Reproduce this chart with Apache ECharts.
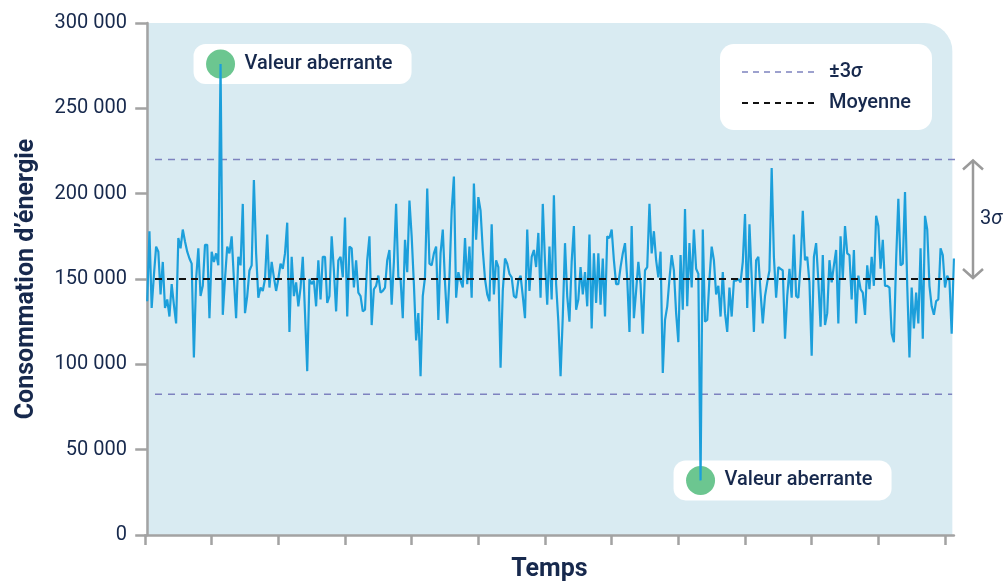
<!DOCTYPE html>
<html><head><meta charset="utf-8">
<script src="https://cdn.jsdelivr.net/npm/echarts@6/dist/echarts.min.js"></script>
<style>html,body{margin:0;padding:0;background:#fff}#c{width:1008px;height:582px}</style>
</head><body><div id="c"></div>
<script>
// Energy consumption readings (one per time step)
const energy = [
137000,178000,133000,152000,169000,166000,141000,160000,133000,138000,
128000,147000,135000,124000,174000,168000,179000,172000,166000,162000,
159000,104000,150000,168000,140000,146000,170000,170000,127000,166000,
160000,165000,158000,276000,129000,150000,169000,165000,175000,150000,
127000,163000,158000,194000,130000,140000,155000,158000,208000,165000,
139000,145000,143000,150000,176000,145000,160000,151000,143000,150000,
159000,156000,165000,183000,119000,163000,140000,148000,134000,145000,
163000,130000,96000,150000,147000,149000,134000,161000,138000,163000,
163000,136000,140000,175000,155000,131000,161000,163000,151000,186000,
128000,169000,168000,145000,161000,142000,140000,131000,132000,161000,
175000,123000,144000,146000,152000,142000,143000,145000,161000,167000,
135000,160000,194000,151000,150000,127000,173000,154000,196000,175000,
147000,114000,130000,93000,140000,151000,203000,159000,158000,165000,
169000,126000,165000,179000,148000,124000,151000,190000,210000,139000,
154000,149000,145000,174000,147000,169000,139000,206000,173000,198000,
190000,167000,150000,141000,137000,182000,141000,161000,157000,98000,
143000,162000,159000,153000,151000,140000,139000,149000,152000,140000,
127000,179000,143000,163000,167000,157000,177000,139000,194000,160000,
135000,169000,138000,199000,147000,125000,93000,128000,171000,140000,
125000,160000,181000,132000,138000,157000,141000,154000,134000,176000,
121000,165000,136000,165000,135000,162000,128000,175000,174000,179000,
161000,147000,147000,157000,165000,171000,150000,119000,181000,127000,
143000,160000,147000,118000,155000,157000,194000,165000,178000,161000,
151000,166000,95000,126000,134000,150000,164000,155000,130000,113000,
164000,132000,191000,134000,171000,145000,179000,156000,153000,32000,
179000,125000,126000,150000,169000,161000,141000,146000,128000,154000,
130000,119000,145000,128000,149000,149000,150000,148000,160000,188000,
133000,182000,151000,119000,161000,163000,142000,124000,140000,148000,
155000,215000,163000,139000,157000,156000,155000,115000,140000,156000,
139000,176000,140000,139000,159000,190000,161000,163000,148000,105000,
163000,171000,149000,122000,164000,123000,130000,161000,148000,158000,
167000,124000,175000,150000,181000,165000,164000,138000,167000,124000,
152000,144000,142000,129000,158000,144000,163000,146000,187000,181000,
156000,173000,146000,146000,145000,118000,113000,161000,197000,158000,
159000,201000,146000,104000,145000,121000,142000,124000,168000,115000,
187000,179000,146000,134000,129000,137000,138000,168000,164000,145000,
152000,149000,118000,162000
];
const meanValue = [150000];
const sigmaBand = [220000, 82500];          // mean + 3σ, mean - 3σ
const outlierIdx = [33, 249];
const outlierText = ['Valeur aberrante', 'Valeur aberrante'];
const yTicks = [0, 50000, 100000, 150000, 200000, 250000, 300000];
const xTicks = [-1, 29, 59, 89, 119, 149, 179, 209, 239, 269, 299, 329, 359];
const legendNames = ['±3σ', 'Moyenne'];
const axisNames = ['Temps', 'Consommation d’énergie'];

const NAVY = '#17294d', AX = '#a3a3a3', FONT = 'Roboto';
const refStart = 3.5, refEndLong = 377, refEndShort = 362.2;

const chart = echarts.init(document.getElementById('c'), null, {renderer: 'canvas'});
const fmt = v => v === 0 ? '0' : (v / 1000) + ' 000';

const option = {
  animation: false,
  grid: {left: 145, top: 23, right: 54.1, bottom: 47, containLabel: false, outerBoundsMode: 'none'},
  xAxis: {
    type: 'value', min: -1, max: 363,
    name: axisNames[0], nameLocation: 'middle', nameGap: 22,
    nameTextStyle: {fontFamily: FONT, fontWeight: 'bold', fontSize: 25, color: NAVY, verticalAlign: 'top'},
    axisLine: {show: true, lineStyle: {color: AX, width: 2.5}},
    axisTick: {show: true, customValues: xTicks, length: 10, lineStyle: {color: AX, width: 2.5}},
    axisLabel: {show: false},
    splitLine: {show: false}
  },
  yAxis: {
    type: 'value', min: yTicks[0], max: yTicks[yTicks.length - 1], interval: yTicks[1] - yTicks[0],
    name: axisNames[1], nameLocation: 'middle', nameGap: 106, nameRotate: 90,
    nameTextStyle: {fontFamily: FONT, fontWeight: 'bold', fontSize: 25, color: NAVY},
    axisLine: {show: true, lineStyle: {color: AX, width: 2.5}},
    axisTick: {show: true, length: 12, lineStyle: {color: AX, width: 2.5}},
    axisLabel: {formatter: fmt, fontFamily: FONT, fontSize: 20, color: NAVY, margin: 18},
    splitLine: {show: false}
  },
  series: [
    {type: 'line', name: 'upper', silent: true, clip: false, symbol: 'none', z: 4,
     data: [[refStart, sigmaBand[0]], [refEndLong, sigmaBand[0]]],
     lineStyle: {color: '#7e82bf', width: 1.6, type: [7, 6]}},
    {type: 'line', name: 'lower', silent: true, clip: false, symbol: 'none', z: 4,
     data: [[refStart, sigmaBand[1]], [refEndShort, sigmaBand[1]]],
     lineStyle: {color: '#7e82bf', width: 1.6, type: [7, 6]}},
    {type: 'line', name: 'energy', silent: true, symbol: 'none', z: 5,
     data: energy.map((v, i) => [i, v]),
     lineStyle: {color: '#1c9fdb', width: 2.2}},
    {type: 'line', name: 'mean', silent: true, clip: false, symbol: 'none', z: 6,
     data: [[refStart, meanValue[0]], [refEndLong, meanValue[0]]],
     lineStyle: {color: '#111111', width: 2, type: [7, 5]}}
  ]
};
chart.setOption(option);

const px = (x, y) => chart.convertToPixel({gridIndex: 0}, [x, y]);
const tl = px(-1, yTicks[yTicks.length - 1]);
const br = px(362.3, 0);
const g = [];
// plot background
g.push({type: 'rect', z: -10, silent: true,
  shape: {x: tl[0] + 1.5, y: tl[1], width: br[0] - tl[0] - 1.5, height: br[1] - tl[1], r: [0, 28, 0, 0]},
  style: {fill: '#d9ebf2'}});
// outlier annotations
outlierIdx.forEach((idx, k) => {
  const p = px(idx, energy[idx]);
  g.push({type: 'rect', z: 1, silent: true,
    shape: {x: p[0] - 27, y: p[1] - 20, width: 218, height: 40, r: 12}, style: {fill: '#ffffff'}});
  g.push({type: 'circle', z: 1, silent: true,
    shape: {cx: p[0], cy: p[1], r: 14.5}, style: {fill: '#6cc690'}});
  g.push({type: 'text', z: 1, silent: true, x: p[0] + 24, y: p[1],
    style: {text: outlierText[k], fill: NAVY, font: '500 20px ' + FONT, verticalAlign: 'middle', align: 'left'}});
});
// legend
g.push({type: 'rect', z: 1, silent: true, shape: {x: 720, y: 44, width: 212, height: 86, r: 14}, style: {fill: '#ffffff'}});
g.push({type: 'line', z: 2, silent: true, shape: {x1: 742, y1: 72, x2: 818, y2: 72},
  style: {stroke: '#7e82bf', lineWidth: 1.3, lineDash: [6, 5]}});
g.push({type: 'line', z: 2, silent: true, shape: {x1: 742, y1: 103, x2: 818, y2: 103},
  style: {stroke: '#111111', lineWidth: 2, lineDash: [6, 5]}});
g.push({type: 'text', z: 2, silent: true, x: 829, y: 72,
  style: {text: '{a|±3}{b|σ}', verticalAlign: 'middle',
    rich: {a: {fontFamily: FONT, fontSize: 20, fontWeight: 500, fill: NAVY}, b: {fontFamily: FONT, fontSize: 20, fontWeight: 500, fill: NAVY, fontStyle: 'italic'}}}});
g.push({type: 'text', z: 2, silent: true, x: 829, y: 103,
  style: {text: legendNames[1], fill: NAVY, font: '500 20px ' + FONT, verticalAlign: 'middle'}});
// 3σ arrow
const yU = px(0, sigmaBand[0])[1], yM = px(0, meanValue[0])[1];
const ax = 973;
g.push({type: 'line', silent: true, shape: {x1: ax, y1: yU + 1, x2: ax, y2: yM - 1}, style: {stroke: '#9a9a9a', lineWidth: 2.5}});
g.push({type: 'polyline', silent: true, shape: {points: [[ax - 10, yU + 10], [ax, yU + 1], [ax + 10, yU + 10]]}, style: {stroke: '#9a9a9a', lineWidth: 2.5, fill: null}});
g.push({type: 'polyline', silent: true, shape: {points: [[ax - 10, yM - 10], [ax, yM - 1], [ax + 10, yM - 10]]}, style: {stroke: '#9a9a9a', lineWidth: 2.5, fill: null}});
g.push({type: 'text', silent: true, x: 980, y: (yU + yM) / 2,
  style: {text: '{a|3}{b|σ}', verticalAlign: 'middle',
    rich: {a: {fontFamily: FONT, fontSize: 20, fill: NAVY}, b: {fontFamily: FONT, fontSize: 20, fill: NAVY, fontStyle: 'italic'}}}});
chart.setOption({graphic: g});
</script>
</body></html>
